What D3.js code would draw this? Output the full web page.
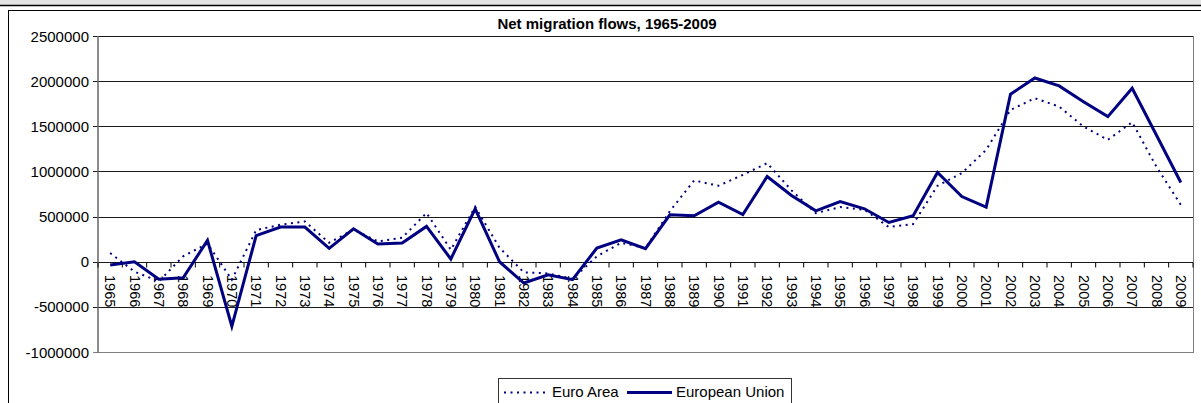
<!DOCTYPE html>
<html>
<head>
<meta charset="utf-8">
<script src="https://cdn.jsdelivr.net/npm/d3@7"></script>
<style>
  body { margin: 0; background: #fff; }
  svg { display: block; font-family: Arial, "Liberation Sans", sans-serif; }
</style>
</head>
<body>
<div id="chart"></div>
<script>
const width = 1201
const height = 403
const margin = { top: 36, right: 8, bottom: 51, left: 98 }

const years = d3.range(1965, 2010).map(String)
const euroArea = [96000, -110000, -218000, 60000, 200000, -200000, 350000, 410000, 446000, 210000,
    355000, 225000, 265000, 540000, 133000, 608000, 155000, -118000, -130000, -190000,
    59000, 210000, 150000, 560000, 900000, 841000, 962000, 1092000, 790000, 538000,
    605000, 575000, 384000, 417000, 841000, 981000, 1239000, 1681000, 1811000, 1718000,
    1497000, 1350000, 1545000, 1050000, 630000]
const europeanUnion = [-37000, 0, -195000, -178000, 236000, -715000, 290000, 384000, 384000, 148000,
    365000, 196000, 207000, 391000, 30000, 586000, 0, -236000, -144000, -199000,
    151000, 243000, 144000, 520000, 509000, 660000, 523000, 944000, 734000, 564000,
    667000, 586000, 435000, 509000, 988000, 722000, 605000, 1855000, 2035000, 1947000,
    1773000, 1607000, 1921000, 1400000, 877000]
const yTicks = [-1000000, -500000, 0, 500000, 1000000, 1500000, 2000000, 2500000]
const seriesNames = ["Euro Area", "European Union"]

const navy = "#000080"

const svg = d3.select("div#chart").append("svg").attr("width", width).attr("height", height)

// page strip above the chart
svg.append("rect").attr("x", 0).attr("y", 0).attr("width", width).attr("height", 5).attr("fill", "#e4e4e4")
svg.append("line").attr("x1", 0).attr("x2", width).attr("y1", 5.5).attr("y2", 5.5)
    .attr("stroke", "#000").attr("stroke-width", 1.5)

// chart frame
svg.append("rect").attr("x", 8.5).attr("y", 10.5).attr("width", width).attr("height", height)
    .attr("fill", "#fff").attr("stroke", "#000").attr("stroke-width", 1)

const x = d3.scaleBand().domain(years).range([margin.left, width - margin.right]).padding(0)
const y = d3.scaleLinear().domain([-1000000, 2500000]).range([352, margin.top])

// gridlines
svg.append("g").selectAll("line").data(yTicks).join("line")
    .attr("x1", margin.left - 5).attr("x2", width - margin.right)
    .attr("y1", d => Math.round(y(d)) + 0.5).attr("y2", d => Math.round(y(d)) + 0.5)
    .attr("stroke", d => d === -1000000 ? "#808080" : "#1a1a1a").attr("stroke-width", 1)

// plot border (right side)
svg.append("line").attr("x1", width - margin.right + 0.5).attr("x2", width - margin.right + 0.5)
    .attr("y1", y(2500000)).attr("y2", y(-1000000) + 1).attr("stroke", "#808080")

// y axis
svg.append("line").attr("x1", margin.left).attr("x2", margin.left)
    .attr("y1", y(2500000)).attr("y2", y(-1000000) + 1).attr("stroke", "#6e6e6e").attr("stroke-width", 1.6)

svg.append("g").selectAll("text").data(yTicks).join("text")
    .attr("x", 89).attr("y", d => y(d) + 5.5)
    .attr("text-anchor", "end").attr("font-size", 15).attr("fill", "#000")
    .text(d => d)

// x axis ticks on the zero line
const y0 = Math.round(y(0)) + 0.5
svg.append("g").selectAll("line").data(years.concat(["end"])).join("line")
    .attr("x1", d => d === "end" ? width - margin.right : x(d))
    .attr("x2", d => d === "end" ? width - margin.right : x(d))
    .attr("y1", y0).attr("y2", y0 + 5)
    .attr("stroke", "#000")

svg.append("g").selectAll("text").data(years).join("text")
    .attr("transform", d => `translate(${x(d) + x.bandwidth() / 2 - 5}, 275) rotate(90)`)
    .attr("font-size", 14.5).attr("fill", "#000")
    .text(d => d)

// title
svg.append("text").attr("x", 607).attr("y", 29).attr("text-anchor", "middle")
    .attr("font-size", 15).attr("font-weight", "bold").text("Net migration flows, 1965-2009")

// lines
const line = d3.line().x((d, i) => x(years[i]) + x.bandwidth() / 2).y(d => y(d))

svg.append("path").datum(euroArea).attr("d", line)
    .attr("fill", "none").attr("stroke", navy).attr("stroke-width", 2)
    .attr("stroke-dasharray", "2,4.5")

svg.append("path").datum(europeanUnion).attr("d", line)
    .attr("fill", "none").attr("stroke", navy).attr("stroke-width", 3)
    .attr("stroke-linejoin", "miter")

// legend
const legend = svg.append("g")
legend.append("rect").attr("x", 498.5).attr("y", 378.5).attr("width", 293).attr("height", 40)
    .attr("fill", "#fff").attr("stroke", "#333")
legend.append("line").attr("x1", 504).attr("x2", 548).attr("y1", 392.5).attr("y2", 392.5)
    .attr("stroke", navy).attr("stroke-width", 2).attr("stroke-dasharray", "2,4.5")
legend.append("text").attr("x", 552).attr("y", 397).attr("font-size", 15).text(seriesNames[0])
legend.append("line").attr("x1", 627).attr("x2", 672).attr("y1", 392.5).attr("y2", 392.5)
    .attr("stroke", navy).attr("stroke-width", 3)
legend.append("text").attr("x", 676).attr("y", 397).attr("font-size", 15).text(seriesNames[1])
</script>
</body>
</html>
